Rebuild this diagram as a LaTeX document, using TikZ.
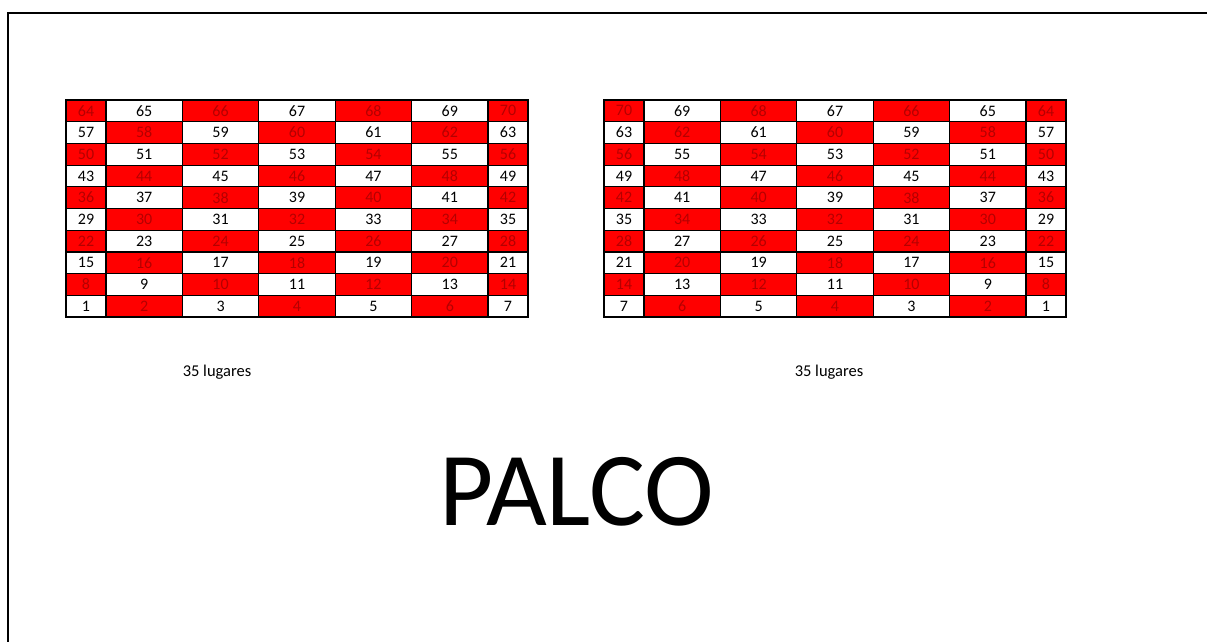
\documentclass[tikz,border=0pt]{standalone}
\usepackage{fontspec}
\setmainfont{Carlito}
\usepackage{tikz}
\usetikzlibrary{positioning}
\definecolor{seatred}{RGB}{255,0,0}
\definecolor{seatink}{RGB}{180,0,0}
\tikzstyle{seat} = [rectangle,
minimum height=21.7pt,
inner sep=0pt, outer sep=0pt,
text centered,
draw=black, line width=1.2pt,
fill=white, text=black,
font=\fontsize{16}{18}\selectfont]
\tikzstyle{redseat} = [seat,
fill=seatred, text=seatink]
\tikzstyle{countlabel} = [font=\fontsize{16.5}{18}\selectfont]
\tikzstyle{stagelabel} = [font=\fontsize{105}{110}\selectfont]
\tikzstyle{frame} = [line width=1.6pt]

\begin{document}
\begin{tikzpicture}[x=1pt, y=-1pt]
                \useasboundingbox (0,0) rectangle (1207,642);
                \draw [frame] (1207,13) -- (8,13) -- (8,642);

                % seats, left block numbered from the left, right block mirrored
                \foreach \r in {1,...,10} {
                    \foreach \c/\cx/\w in {1/86/40, 2/144.2/76.4, 3/220.6/76.4, 4/297/76.4, 5/373.4/76.4, 6/449.8/76.4, 7/508/40} {
                        \pgfmathtruncatemacro{\n}{7*(\r-1)+\c}
                        \pgfmathtruncatemacro{\m}{7*(\r-1)+8-\c}
                        \pgfmathsetmacro{\cy}{317-21.7*(\r-0.5)}
                        \ifodd\n \def\kind{seat}\else \def\kind{redseat}\fi
                        \node (L\n) [\kind, minimum width=\w pt] at (\cx,\cy) {\n};
                        \node (R\m) [\kind, minimum width=\w pt] at (\cx+538,\cy) {\m};
                    }
                }

                \node (leftcount) [countlabel] at (217,372) {35 lugares};
                \node (rightcount) [countlabel] at (829,372) {35 lugares};
                \node (palco) [stagelabel] at (577,492) {PALCO};
            \end{tikzpicture}
\end{document}
